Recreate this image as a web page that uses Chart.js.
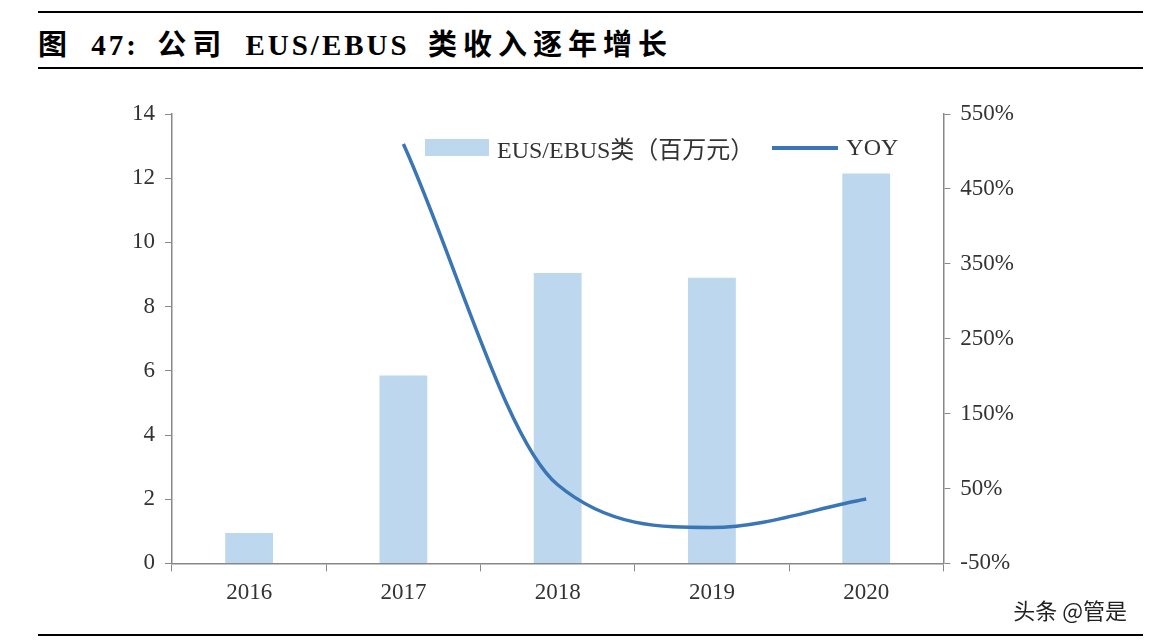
<!DOCTYPE html>
<html><head><meta charset="utf-8">
<script src="https://cdn.jsdelivr.net/npm/chart.js@4"></script>
<style>
body{margin:0;width:1149px;height:641px;background:#fff;position:relative;overflow:hidden;font-family:"Liberation Serif","Noto Sans CJK SC",serif}
#t{position:absolute;left:38px;top:21px;font-size:29px;font-weight:bold;font-family:"Liberation Serif","Noto Sans CJK SC",serif;letter-spacing:3px;word-spacing:8px}
#t .z{letter-spacing:6px}
.hl{position:absolute;left:38px;width:1105px;background:#000}
#wm{position:absolute;right:22px;bottom:16px;font-size:22px;font-family:"Noto Sans CJK SC";color:#222}
#c{position:absolute;left:0;top:80px}
#lg{position:absolute;top:130px;left:425px;font-size:24px;color:#333;display:flex;align-items:center}
#lg span.b{display:inline-block;width:64px;height:17px;background:#bdd7ee;margin-right:8px}
#lg span.l{display:inline-block;width:66px;height:4px;background:#3a76b5;margin:0 8px 0 18px}
</style></head><body>
<div class="hl" style="top:11px;height:2px"></div>
<div id="t"><span class="z">图</span> 47: <span class="z">公司</span> EUS/EBUS <span class="z">类收入逐年增长</span></div>
<div class="hl" style="top:67px;height:2px"></div>
<div class="hl" style="top:634px;height:2px"></div>
<div id="c" style="width:1149px;height:545px"><canvas id="cv"></canvas></div>
<div id="lg"><span class="b"></span>EUS/EBUS类（百万元）<span class="l"></span>YOY</div>
<div id="wm">头条 @管是</div>
<script>
const categories=['2016','2017','2018','2019','2020'];
const revenue=[0.95,5.85,9.05,8.9,12.15];
const yoy=[null,510,55,-2,36];
const F={family:'"Liberation Serif","Noto Sans CJK SC",serif',size:23};
new Chart(document.getElementById('cv'),{
 data:{labels:categories,datasets:[
  {type:'line',label:'YOY',data:yoy,yAxisID:'y1',borderColor:'#3a76b5',backgroundColor:'#3a76b5',borderWidth:3.5,pointRadius:0,cubicInterpolationMode:'monotone',order:0},
  {type:'bar',label:'EUS/EBUS类（百万元）',data:revenue,yAxisID:'y',backgroundColor:'#bdd7ee',barPercentage:0.31,categoryPercentage:1,order:1}
 ]},
 options:{responsive:true,maintainAspectRatio:false,animation:false,
  layout:{padding:{left:122,right:125,top:34,bottom:10}},
  plugins:{tooltip:{enabled:false},legend:{display:false}},
  scales:{
   x:{offset:true,grid:{offset:true,drawOnChartArea:false,tickLength:8,color:'#888'},border:{color:'#888',width:1.5},ticks:{font:F,color:'#333',padding:8}},
   y:{position:'left',min:0,max:14,ticks:{stepSize:2,font:F,color:'#333',padding:10},grid:{drawOnChartArea:false,tickLength:7,color:'#888'},border:{color:'#888',width:1.5}},
   y1:{position:'right',min:-50,max:550,ticks:{stepSize:100,font:F,color:'#333',padding:10,callback:v=>v+'%'},grid:{drawOnChartArea:false,tickLength:7,color:'#888'},border:{color:'#888',width:1.5}}
  }}
});
</script></body></html>
